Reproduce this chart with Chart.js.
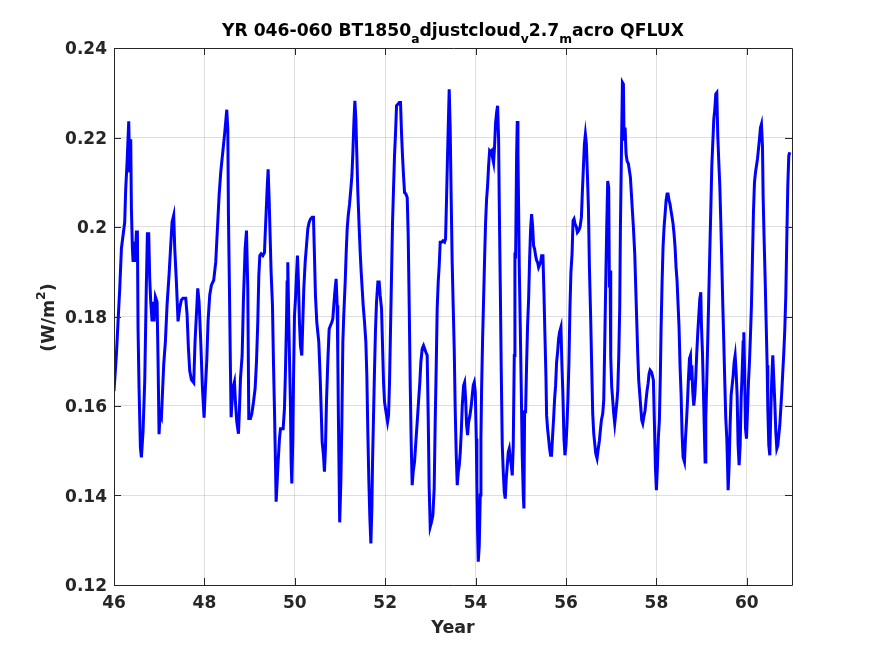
<!DOCTYPE html>
<html>
<head>
<meta charset="utf-8">
<script src="https://cdn.jsdelivr.net/npm/chart.js@4/dist/chart.umd.min.js"></script>
<style>
html,body{margin:0;padding:0;background:#fff;}
#wrap{width:875px;height:656px;}
</style>
</head>
<body>
<div id="wrap"><canvas id="c" width="875" height="656"></canvas></div>
<script>
// ---- data ----
const years = [
46.000,46.053,46.090,46.127,46.164,46.200,46.237,46.259,46.289,46.326,46.348,46.370,46.385,46.407,46.422,46.444,46.466,46.495,46.518,46.532,
46.554,46.584,46.606,46.643,46.680,46.717,46.739,46.768,46.790,46.813,46.842,46.864,46.886,46.916,46.953,46.975,46.997,47.019,47.049,47.071,
47.100,47.137,47.174,47.218,47.255,47.285,47.321,47.344,47.380,47.417,47.454,47.491,47.528,47.587,47.617,47.646,47.676,47.712,47.764,47.793,
47.823,47.853,47.882,47.919,47.956,47.993,48.022,48.052,48.081,48.118,48.155,48.206,48.251,48.288,48.325,48.361,48.413,48.450,48.495,48.518,
48.532,48.554,48.577,48.591,48.628,48.665,48.687,48.717,48.754,48.776,48.798,48.835,48.864,48.901,48.931,48.960,48.982,49.019,49.049,49.086,
49.122,49.152,49.181,49.204,49.226,49.255,49.292,49.329,49.344,49.366,49.388,49.410,49.432,49.454,49.476,49.506,49.528,49.550,49.572,49.587,
49.609,49.631,49.661,49.683,49.742,49.771,49.793,49.816,49.830,49.845,49.867,49.889,49.904,49.919,49.934,49.956,49.971,49.993,50.015,50.037,
50.059,50.081,50.103,50.125,50.155,50.177,50.199,50.229,50.258,50.288,50.317,50.347,50.383,50.413,50.435,50.457,50.487,50.531,50.560,50.583,
50.605,50.634,50.656,50.678,50.701,50.730,50.760,50.789,50.819,50.841,50.863,50.885,50.914,50.937,50.951,50.966,50.993,51.019,51.041,51.063,
51.086,51.115,51.137,51.159,51.181,51.211,51.240,51.263,51.285,51.307,51.329,51.351,51.373,51.395,51.425,51.447,51.469,51.491,51.513,51.543,
51.572,51.594,51.617,51.639,51.661,51.683,51.705,51.720,51.742,51.764,51.786,51.808,51.838,51.867,51.889,51.919,51.941,51.963,51.985,52.007,
52.029,52.052,52.074,52.096,52.118,52.140,52.162,52.184,52.206,52.229,52.251,52.280,52.310,52.339,52.361,52.383,52.406,52.428,52.457,52.487,
52.509,52.531,52.553,52.575,52.597,52.619,52.649,52.678,52.708,52.737,52.767,52.789,52.819,52.848,52.900,52.929,52.951,52.973,52.996,53.025,
53.055,53.084,53.106,53.128,53.150,53.173,53.195,53.217,53.246,53.276,53.313,53.335,53.357,53.379,53.401,53.416,53.438,53.460,53.482,53.504,
53.527,53.550,53.572,53.594,53.617,53.639,53.661,53.683,53.705,53.734,53.757,53.779,53.801,53.823,53.845,53.875,53.904,53.926,53.948,53.971,
53.993,54.015,54.029,54.044,54.059,54.081,54.103,54.118,54.133,54.155,54.177,54.199,54.221,54.243,54.265,54.288,54.310,54.332,54.354,54.376,
54.398,54.420,54.442,54.465,54.487,54.509,54.524,54.546,54.568,54.590,54.612,54.634,54.656,54.678,54.701,54.723,54.745,54.767,54.789,54.811,
54.833,54.856,54.870,54.885,54.907,54.922,54.937,54.951,54.966,54.988,55.010,55.032,55.055,55.069,55.084,55.106,55.128,55.150,55.173,55.195,
55.217,55.239,55.261,55.283,55.305,55.328,55.350,55.372,55.394,55.438,55.460,55.490,55.512,55.534,55.556,55.571,55.593,55.615,55.637,55.659,
55.681,55.704,55.726,55.748,55.770,55.792,55.814,55.836,55.858,55.888,55.910,55.932,55.955,55.977,55.999,56.021,56.043,56.065,56.087,56.109,
56.134,56.156,56.178,56.200,56.230,56.252,56.282,56.311,56.341,56.363,56.385,56.407,56.429,56.451,56.473,56.496,56.518,56.547,56.569,56.591,
56.614,56.636,56.658,56.687,56.709,56.739,56.761,56.783,56.813,56.835,56.857,56.879,56.901,56.923,56.945,56.960,56.975,56.990,57.012,57.034,
57.056,57.078,57.100,57.122,57.145,57.167,57.189,57.204,57.226,57.248,57.270,57.285,57.307,57.329,57.351,57.381,57.403,57.425,57.447,57.469,
57.491,57.521,57.543,57.565,57.587,57.609,57.631,57.653,57.676,57.698,57.720,57.749,57.771,57.794,57.816,57.838,57.860,57.889,57.912,57.934,
57.956,57.978,58.000,58.022,58.044,58.066,58.088,58.103,58.125,58.147,58.170,58.192,58.214,58.236,58.258,58.280,58.302,58.324,58.347,58.369,
58.391,58.413,58.435,58.457,58.479,58.501,58.524,58.546,58.568,58.590,58.621,58.643,58.665,58.687,58.709,58.732,58.754,58.768,58.783,58.805,
58.827,58.850,58.872,58.894,58.916,58.938,58.960,58.982,58.997,59.019,59.041,59.063,59.078,59.093,59.115,59.137,59.159,59.181,59.204,59.226,
59.248,59.270,59.292,59.314,59.336,59.358,59.381,59.403,59.425,59.447,59.469,59.491,59.513,59.535,59.558,59.572,59.587,59.609,59.631,59.653,
59.676,59.698,59.720,59.742,59.764,59.786,59.808,59.830,59.853,59.875,59.897,59.919,59.934,59.948,59.971,59.993,60.015,60.037,60.059,60.081,
60.103,60.125,60.147,60.170,60.192,60.214,60.236,60.258,60.280,60.302,60.324,60.347,60.361,60.383,60.406,60.428,60.450,60.465,60.487,60.509,
60.531,60.553,60.575,60.597,60.619,60.642,60.664,60.686,60.708,60.730,60.752,60.774,60.796,60.819,60.841,60.863,60.885,60.907,60.929,60.951
];
const qflux = [
.1633,.1715,.1789,.1863,.1952,.1981,.2011,.2085,.2144,.2236,.2122,.2196,.2041,.1952,.1922,.1967,.1922,.1989,.1989,.1774,
.1641,.1507,.1485,.1544,.1656,.1878,.1985,.1985,.1885,.1833,.1789,.1833,.1789,.1844,.1833,.1700,.1537,.1581,.1574,.1626,
.1693,.1744,.1826,.1893,.1959,.2011,.2026,.1952,.1878,.1789,.1819,.1837,.1841,.1841,.1804,.1730,.1678,.1659,.1652,.1744,
.1804,.1863,.1833,.1744,.1641,.1574,.1641,.1700,.1789,.1848,.1870,.1881,.1922,.1996,.2070,.2122,.2174,.2211,.2262,.2219,
.2025,.1862,.1676,.1575,.1639,.1654,.1609,.1564,.1538,.1594,.1661,.1713,.1839,.1951,.1992,.1862,.1572,.1572,.1583,.1609,
.1639,.1698,.1787,.1891,.1936,.1940,.1936,.1943,.1981,.2033,.2085,.2129,.2062,.1981,.1899,.1825,.1698,.1594,.1475,.1386,
.1430,.1475,.1527,.1549,.1549,.1594,.1676,.1787,.1877,.1921,.1787,.1676,.1601,.1475,.1427,.1527,.1654,.1802,.1839,.1891,
.1936,.1877,.1787,.1735,.1713,.1787,.1862,.1921,.1958,.1996,.2010,.2018,.2022,.2022,.1936,.1847,.1787,.1743,.1668,.1594,
.1520,.1490,.1453,.1505,.1609,.1698,.1772,.1780,.1787,.1795,.1825,.1854,.1884,.1825,.1713,.1564,.1340,.1430,.1564,.1743,
.1810,.1877,.1943,.1996,.2025,.2051,.2085,.2114,.2167,.2233,.2282,.2241,.2159,.2077,.1996,.1943,.1899,.1862,.1825,.1787,
.1743,.1668,.1535,.1430,.1349,.1293,.1371,.1475,.1579,.1683,.1772,.1832,.1877,.1877,.1847,.1817,.1735,.1654,.1609,.1594,
.1579,.1564,.1579,.1654,.1772,.1891,.2010,.2085,.2159,.2211,.2271,.2274,.2278,.2278,.2211,.2159,.2114,.2077,.2074,.2066,
.1981,.1825,.1654,.1520,.1423,.1453,.1475,.1520,.1564,.1609,.1654,.1698,.1728,.1735,.1720,.1713,.1579,.1416,.1330,.1341,
.1356,.1416,.1564,.1683,.1817,.1877,.1914,.1966,.1966,.1969,.1966,.1973,.2062,.2159,.2248,.2308,.2219,.2062,.1921,.1825,
.1728,.1587,.1490,.1423,.1453,.1468,.1497,.1542,.1601,.1646,.1653,.1616,.1557,.1535,.1564,.1579,.1601,.1624,.1646,.1653,
.1631,.1527,.1423,.1319,.1252,.1289,.1401,.1527,.1639,.1750,.1839,.1929,.2010,.2062,.2092,.2137,.2170,.2167,.2170,.2155,
.2144,.2181,.2233,.2256,.2271,.2196,.2048,.1869,.1676,.1512,.1453,.1408,.1393,.1438,.1468,.1497,.1505,.1483,.1468,.1445,
.1512,.1713,.1943,.1929,.2159,.2237,.2167,.2048,.1914,.1780,.1639,.1490,.1401,.1371,.1587,.1587,.1691,.1780,.1839,.1929,
.1996,.2029,.2003,.1958,.1951,.1936,.1925,.1921,.1910,.1921,.1936,.1936,.1854,.1758,.1668,.1579,.1549,.1527,.1505,.1490,
.1490,.1535,.1572,.1616,.1646,.1698,.1720,.1750,.1765,.1776,.1691,.1624,.1527,.1490,.1512,.1557,.1616,.1698,.1817,.1899,
.1940,.2014,.2018,.2007,.2000,.1988,.1992,.2000,.2022,.2081,.2133,.2185,.2207,.2185,.2118,.2044,.1910,.1791,.1687,.1583,
.1538,.1516,.1494,.1483,.1501,.1523,.1546,.1568,.1583,.1613,.1739,.1873,.2000,.2103,.2088,.1865,.1903,.1709,.1642,.1613,
.1583,.1561,.1583,.1605,.1635,.1709,.1821,.2000,.2163,.2323,.2319,.2193,.2222,.2163,.2148,.2141,.2126,.2111,.2074,.2036,
.2000,.1940,.1865,.1791,.1717,.1657,.1628,.1598,.1568,.1561,.1575,.1590,.1613,.1635,.1650,.1672,.1680,.1676,.1668,.1657,
.1561,.1464,.1412,.1464,.1531,.1568,.1672,.1769,.1873,.1955,.2000,.2029,.2059,.2074,.2074,.2059,.2051,.2036,.2022,.2007,
.1984,.1955,.1910,.1880,.1828,.1776,.1687,.1628,.1538,.1486,.1475,.1527,.1564,.1609,.1661,.1706,.1713,.1661,.1691,.1631,
.1601,.1624,.1668,.1720,.1765,.1802,.1839,.1854,.1780,.1720,.1631,.1535,.1475,.1572,.1661,.1750,.1847,.1943,.2040,.2137,
.2189,.2241,.2263,.2297,.2300,.2204,.2144,.2092,.2011,.1921,.1825,.1743,.1654,.1572,.1527,.1475,.1412,.1468,.1557,.1624,
.1646,.1668,.1698,.1713,.1676,.1624,.1512,.1468,.1512,.1616,.1676,.1743,.1765,.1698,.1550,.1527,.1587,.1653,.1698,.1758,
.1825,.1929,.2033,.2100,.2122,.2137,.2152,.2174,.2196,.2222,.2230,.2181,.2070,.1973,.1884,.1787,.1691,.1594,.1512,.1490,
.1587,.1661,.1713,.1661,.1609,.1542,.1505,.1512,.1535,.1557,.1594,.1631,.1676,.1720,.1772,.1847,.1973,.2092,.2159,.2167
];
const xTickValues = [46, 48, 50, 52, 54, 56, 58, 60];
const xTickLabels = ['46', '48', '50', '52', '54', '56', '58', '60'];
const yTickValues = [0.12, 0.14, 0.16, 0.18, 0.20, 0.22, 0.24];
const yTickLabels = ['0.12', '0.14', '0.16', '0.18', '0.2', '0.22', '0.24'];
const titleParts = [
  {t: 'YR 046-060 BT1850', sub: false},
  {t: 'a', sub: true},
  {t: 'djustcloud', sub: false},
  {t: 'v', sub: true},
  {t: '2.7', sub: false},
  {t: 'm', sub: true},
  {t: 'acro QFLUX', sub: false}
];
const xLabel = 'Year';

const FONT = '"DejaVu Sans", sans-serif';
const AX = '#262626';

const decor = {
  id: 'decor',
  afterDraw(chart) {
    const ctx = chart.ctx;
    const a = chart.chartArea;
    const xs = chart.scales.x, ys = chart.scales.y;
    ctx.save();
    // box
    ctx.strokeStyle = AX;
    ctx.lineWidth = 1;
    ctx.beginPath();
    ctx.rect(Math.round(a.left) + 0.5, Math.round(a.top) + 0.5, Math.round(a.right - a.left), Math.round(a.bottom - a.top));
    ctx.stroke();
    // inward ticks
    const TL = 7;
    ctx.beginPath();
    xTickValues.forEach(v => {
      const px = Math.round(xs.getPixelForValue(v)) + 0.5;
      ctx.moveTo(px, a.bottom); ctx.lineTo(px, a.bottom - TL);
      ctx.moveTo(px, a.top); ctx.lineTo(px, a.top + TL);
    });
    yTickValues.forEach(v => {
      const py = Math.round(ys.getPixelForValue(v)) + 0.5;
      ctx.moveTo(a.left, py); ctx.lineTo(a.left + TL, py);
      ctx.moveTo(a.right, py); ctx.lineTo(a.right - TL, py);
    });
    ctx.stroke();
    // tick labels
    ctx.fillStyle = AX;
    ctx.font = 'bold 17px ' + FONT;
    ctx.textBaseline = 'alphabetic';
    ctx.textAlign = 'center';
    xTickValues.forEach((v, i) => {
      ctx.fillText(xTickLabels[i], xs.getPixelForValue(v), 608);
    });
    ctx.textAlign = 'right';
    yTickValues.forEach((v, i) => {
      ctx.fillText(yTickLabels[i], 107, ys.getPixelForValue(v) + 6.2);
    });
    // x label
    ctx.textAlign = 'center';
    ctx.font = 'bold 17.5px ' + FONT;
    ctx.fillText(xLabel, (a.left + a.right) / 2, 633);
    // y label with superscript
    ctx.save();
    ctx.translate(53.5, (a.top + a.bottom) / 2 + 1);
    ctx.rotate(-Math.PI / 2);
    const mainF = 'bold 17.5px ' + FONT, supF = 'bold 12.5px ' + FONT;
    ctx.font = mainF; const w1 = ctx.measureText('(W/m').width; const w3 = ctx.measureText(')').width;
    ctx.font = supF; const w2 = ctx.measureText('2').width;
    let sx = -(w1 + w2 + w3) / 2;
    ctx.textAlign = 'left';
    ctx.font = mainF; ctx.fillText('(W/m', sx, 0); sx += w1;
    ctx.font = supF; ctx.fillText('2', sx, -8.5); sx += w2;
    ctx.font = mainF; ctx.fillText(')', sx, 0);
    ctx.restore();
    // title with subscripts
    const tF = 'bold 17.2px ' + FONT, sF = 'bold 12.3px ' + FONT;
    let tw = 0;
    titleParts.forEach(p => { ctx.font = p.sub ? sF : tF; p.w = ctx.measureText(p.t).width; tw += p.w; });
    let tx = (a.left + a.right) / 2 - tw / 2;
    ctx.fillStyle = '#000';
    ctx.textAlign = 'left';
    titleParts.forEach(p => {
      ctx.font = p.sub ? sF : tF;
      ctx.fillText(p.t, tx, p.sub ? 42.5 : 36);
      tx += p.w;
    });
    ctx.restore();
  }
};

const points = years.map((x, i) => ({x: x, y: qflux[i]}));

new Chart(document.getElementById('c'), {
  type: 'line',
  data: {
    datasets: [{
      data: points,
      borderColor: '#0000ff',
      borderWidth: 3,
      pointRadius: 0,
      tension: 0,
      fill: false
    }]
  },
  options: {
    responsive: false,
    animation: false,
    devicePixelRatio: 1,
    layout: {padding: {top: 48, right: 83, left: 0, bottom: 0}},
    plugins: {legend: {display: false}, tooltip: {enabled: false}, title: {display: false}},
    scales: {
      x: {
        type: 'linear', min: 46, max: 61,
        afterBuildTicks: s => { s.ticks = xTickValues.map(v => ({value: v})); },
        afterFit: s => { s.height = 71; },
        ticks: {display: false},
        border: {display: false},
        grid: {color: 'rgba(38,38,38,0.15)', lineWidth: 1, drawTicks: false}
      },
      y: {
        type: 'linear', min: 0.12, max: 0.24,
        afterBuildTicks: s => { s.ticks = yTickValues.map(v => ({value: v})); },
        afterFit: s => { s.width = 114; },
        ticks: {display: false},
        border: {display: false},
        grid: {color: 'rgba(38,38,38,0.15)', lineWidth: 1, drawTicks: false}
      }
    }
  },
  plugins: [decor]
});
</script>
</body>
</html>
